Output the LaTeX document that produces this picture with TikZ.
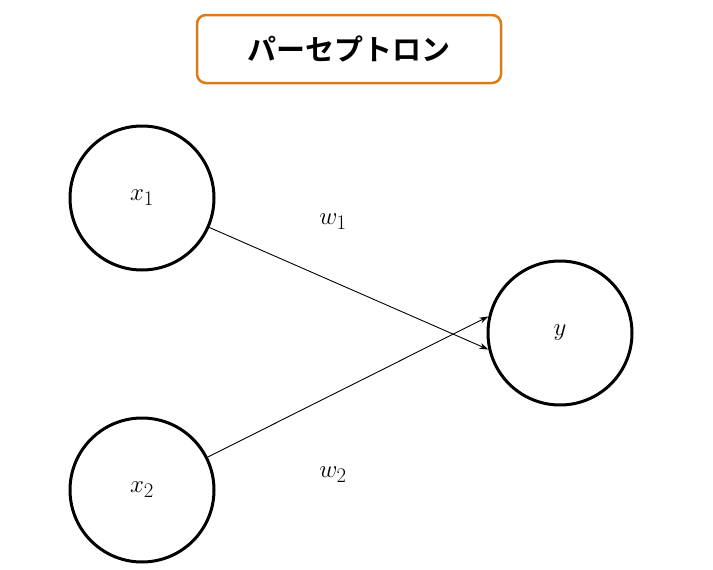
\documentclass[tikz,border=0pt]{standalone}
\usepackage{fontspec}
\newfontfamily\cjk{Noto Sans CJK JP Bold}
\usetikzlibrary{arrows.meta}
\begin{document}
\begin{tikzpicture}[x=1pt,y=-1pt,
  neuron/.style={circle,draw,line width=3pt,minimum size=144pt,inner sep=0pt,font=\fontsize{32}{38}\selectfont},
  conn/.style={-{Stealth[length=9pt,width=6pt]},line width=0.9pt},
  wlabel/.style={font=\fontsize{30}{36}\selectfont}]
\useasboundingbox (0,0) rectangle (713,570);
\node[draw=orange!85!black!90,line width=2.5pt,rounded corners=9pt,minimum width=304pt,minimum height=68pt,font=\cjk\fontsize{29}{34}\selectfont] (title) at (349,49) {パーセプトロン};
\node[neuron] (x1) at (142,198) {$x_1$};
\node[neuron] (x2) at (142,490) {$x_2$};
\node[neuron] (y) at (560,333) {$y$};
\draw[conn] (x1) -- (y.180+13);
\draw[conn] (x2) -- (y.180-13);
\node[wlabel] (w1) at (333,222) {$w_1$};
\node[wlabel] (w2) at (333,475) {$w_2$};
\end{tikzpicture}
\end{document}
